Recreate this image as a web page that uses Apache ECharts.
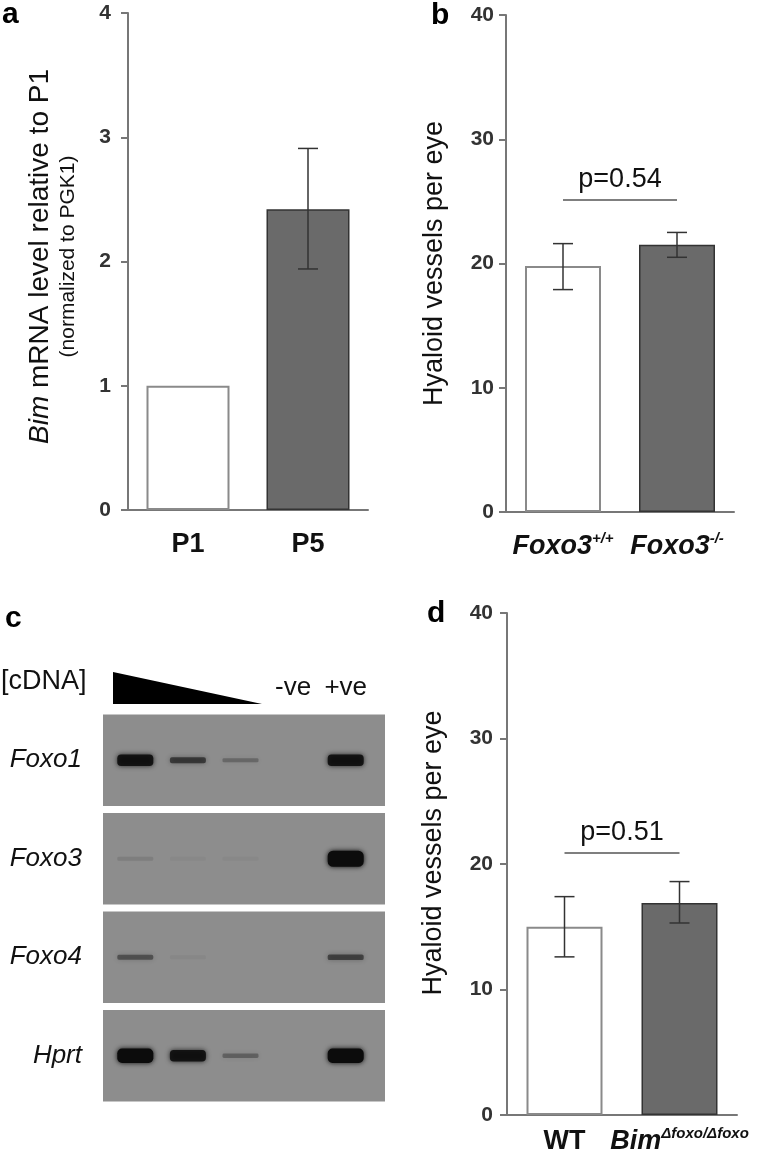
<!DOCTYPE html>
<html>
<head>
<meta charset="utf-8">
<script src="https://cdn.jsdelivr.net/npm/echarts@6/dist/echarts.min.js"></script>
<style>
  html, body { margin: 0; padding: 0; background: #fff; }
  #main { width: 768px; height: 1154px; }
</style>
</head>
<body>
<div id="main"></div>
<script>
// panel a
const aCats = ['P1', 'P5'];
const aMean = [1.0, 2.42];
const aLow = [null, 1.94];
const aHigh = [null, 2.91];
const aMax = 4, aStep = 1;

// panel b
const bCats = ['Foxo3+/+', 'Foxo3-/-'];
const bLabels = ['{b|Foxo3}{s|+/+}', '{b|Foxo3}{s|-/-}'];
const bMean = [19.8, 21.5];
const bLow = [17.9, 20.5];
const bHigh = [21.6, 22.5];
const bP = 'p=0.54', bPY = 25.1;

// panel d
const dCats = ['WT', 'Bim foxo/foxo'];
const dLabels = ['{n|WT}', '{b|Bim}{s|\u0394foxo/\u0394foxo}'];
const dMean = [15.0, 16.9];
const dLow = [12.6, 15.3];
const dHigh = [17.4, 18.6];
const dP = 'p=0.51', dPY = 20.9;
const bdMax = 40, bdStep = 10;

// panel c (gel band intensity, 0..1)
const genes = ['Foxo1', 'Foxo3', 'Foxo4', 'Hprt'];
const lanes = ['', '', '', '-ve', '+ve'];
const foxo1 = [0.85, 0.55, 0.25, 0, 0.85];
const foxo3 = [0.1, 0.03, 0.03, 0, 1.0];
const foxo4 = [0.4, 0.04, 0, 0, 0.5];
const hprt = [0.95, 0.85, 0.3, 0, 0.95];

const FONT = '"Liberation Sans", Arial, sans-serif';
const chart = echarts.init(document.getElementById('main'));

function barItems(vals) {
  return vals.map((v, i) => ({
    value: v,
    itemStyle: i === 0
      ? { color: '#ffffff', borderColor: '#8a8a8a', borderWidth: 2 }
      : { color: '#6a6a6a', borderColor: '#333333', borderWidth: 1.5 }
  }));
}

function errData(lows, highs) {
  const out = [];
  lows.forEach((lo, i) => { if (lo != null) out.push([i, lo, highs[i]]); });
  return out;
}

function renderErr(params, api) {
  const x = api.value(0);
  const lo = api.coord([x, api.value(1)]);
  const hi = api.coord([x, api.value(2)]);
  const w = 10;
  const st = { stroke: '#333', lineWidth: 1.5 };
  return {
    type: 'group',
    children: [
      { type: 'line', shape: { x1: lo[0], y1: lo[1], x2: hi[0], y2: hi[1] }, style: st },
      { type: 'line', shape: { x1: lo[0] - w, y1: lo[1], x2: lo[0] + w, y2: lo[1] }, style: st },
      { type: 'line', shape: { x1: hi[0] - w, y1: hi[1], x2: hi[0] + w, y2: hi[1] }, style: st }
    ]
  };
}

function pLine(text, y) {
  return {
    symbol: 'none',
    silent: true,
    lineStyle: { color: '#555', width: 1.5, type: 'solid' },
    label: { show: true, position: 'middle', formatter: text, fontSize: 27, color: '#111', fontFamily: FONT, distance: 7 },
    data: [[{ coord: [0, y] }, { coord: [1, y] }]]
  };
}

const axisLine = { show: true, lineStyle: { color: '#777', width: 2 } };
const tickLabel = { fontSize: 21, fontWeight: 'bold', color: '#333', fontFamily: FONT };
const supRich = {
  b: { fontSize: 27, fontWeight: 'bold', fontStyle: 'italic', color: '#111', fontFamily: FONT, lineHeight: 32 },
  n: { fontSize: 27, fontWeight: 'bold', color: '#111', fontFamily: FONT, lineHeight: 32 },
  s: { fontSize: 15, fontWeight: 'bold', fontStyle: 'italic', color: '#111', fontFamily: FONT, verticalAlign: 'top', lineHeight: 32 }
};

// gel
const bandData = [];
[foxo1, foxo3, foxo4, hprt].forEach((row, gi) => {
  row.forEach((v, li) => bandData.push([li, gi, v]));
});

const option = {
  animation: false,
  backgroundColor: '#fff',
  grid: [
    { left: 128, top: 13, width: 240, height: 497, outerBoundsMode: 'none', containLabel: false },
    { left: 506, top: 15, width: 228, height: 497, outerBoundsMode: 'none', containLabel: false },
    { left: 507, top: 613, width: 230, height: 502, outerBoundsMode: 'none', containLabel: false },
    { left: 109, top: 711, width: 263, height: 394, outerBoundsMode: 'none', containLabel: false }
  ],
  xAxis: [
    { gridIndex: 0, type: 'category', data: aCats, axisLine: axisLine, axisTick: { show: false },
      axisLabel: { interval: 0, hideOverlap: false, margin: 21, fontSize: 27, fontWeight: 'bold', color: '#111', fontFamily: FONT } },
    { gridIndex: 1, type: 'category', data: bCats, axisLine: axisLine, axisTick: { show: false },
      axisLabel: { interval: 0, hideOverlap: false, margin: 19, formatter: (v, i) => bLabels[i], rich: supRich } },
    { gridIndex: 2, type: 'category', data: dCats, axisLine: axisLine, axisTick: { show: false },
      axisLabel: { interval: 0, hideOverlap: false, margin: 11, formatter: (v, i) => dLabels[i], rich: supRich } },
    { gridIndex: 3, type: 'category', data: lanes, position: 'top', boundaryGap: true,
      axisLine: { show: false }, axisTick: { show: false },
      axisLabel: { margin: 10, interval: 0, fontSize: 26, color: '#111', fontFamily: FONT } }
  ],
  yAxis: [
    { gridIndex: 0, type: 'value', min: 0, max: aMax, interval: aStep, splitLine: { show: false },
      axisLine: axisLine, axisTick: { show: true, length: 7, lineStyle: { color: '#777', width: 2 } },
      axisLabel: Object.assign({ margin: 17 }, tickLabel),
      name: '{i|Bim} mRNA level relative to P1\n{s|(normalized to PGK1)}',
      nameLocation: 'middle', nameRotate: 90, nameGap: 47,
      nameTextStyle: { fontSize: 28, color: '#111', fontFamily: FONT, lineHeight: 30, padding: [0, 0, 0, 10],
        rich: {
          i: { fontSize: 28, fontStyle: 'italic', color: '#111', fontFamily: FONT, lineHeight: 30 },
          s: { fontSize: 21, color: '#111', fontFamily: FONT, lineHeight: 26 }
        } } },
    { gridIndex: 1, type: 'value', min: 0, max: bdMax, interval: bdStep, splitLine: { show: false },
      axisLine: axisLine, axisTick: { show: true, length: 7, lineStyle: { color: '#777', width: 2 } },
      axisLabel: Object.assign({ margin: 12 }, tickLabel),
      name: 'Hyaloid vessels per eye', nameLocation: 'middle', nameRotate: 90, nameGap: 57,
      nameTextStyle: { fontSize: 27, color: '#111', fontFamily: FONT, lineHeight: 28 } },
    { gridIndex: 2, type: 'value', min: 0, max: bdMax, interval: bdStep, splitLine: { show: false },
      axisLine: axisLine, axisTick: { show: true, length: 7, lineStyle: { color: '#777', width: 2 } },
      axisLabel: Object.assign({ margin: 14 }, tickLabel),
      name: 'Hyaloid vessels per eye', nameLocation: 'middle', nameRotate: 90, nameGap: 59,
      nameTextStyle: { fontSize: 27, color: '#111', fontFamily: FONT, lineHeight: 28, padding: [0, 0, 0, 22] } },
    { gridIndex: 3, type: 'category', data: genes, inverse: true,
      axisLine: { show: false }, axisTick: { show: false }, splitLine: { show: false },
      axisLabel: { margin: 27, fontSize: 26, fontStyle: 'italic', color: '#111', fontFamily: FONT } }
  ],
  series: [
    { type: 'bar', xAxisIndex: 0, yAxisIndex: 0, barWidth: 83, data: barItems(aMean), silent: true },
    { type: 'custom', xAxisIndex: 0, yAxisIndex: 0, renderItem: renderErr, data: errData(aLow, aHigh),
      encode: { x: 0, y: [1, 2] }, z: 3, silent: true },

    { type: 'bar', xAxisIndex: 1, yAxisIndex: 1, barWidth: 76, data: barItems(bMean), silent: true,
      markLine: pLine(bP, bPY) },
    { type: 'custom', xAxisIndex: 1, yAxisIndex: 1, renderItem: renderErr, data: errData(bLow, bHigh),
      encode: { x: 0, y: [1, 2] }, z: 3, silent: true },

    { type: 'bar', xAxisIndex: 2, yAxisIndex: 2, barWidth: 76, data: barItems(dMean), silent: true,
      markLine: pLine(dP, dPY) },
    { type: 'custom', xAxisIndex: 2, yAxisIndex: 2, renderItem: renderErr, data: errData(dLow, dHigh),
      encode: { x: 0, y: [1, 2] }, z: 3, silent: true },

    // gel strips, one per gene
    { type: 'custom', xAxisIndex: 3, yAxisIndex: 3, silent: true, z: 1,
      data: genes.map((g, i) => [0, i]), encode: { x: 0, y: 1 },
      renderItem: function (params, api) {
        const c = api.coord([0, api.value(1)]);
        const h = api.size([0, 1])[1];
        const cs = params.coordSys;
        return { type: 'rect', shape: { x: cs.x - 6, y: c[1] - h / 2 + 3.5, width: cs.width + 19, height: h - 7 },
          style: { fill: '#8d8d8d' } };
      } },
    // gel bands
    { type: 'custom', xAxisIndex: 3, yAxisIndex: 3, silent: true, z: 2,
      data: bandData, encode: { x: 0, y: 1 },
      renderItem: function (params, api) {
        const v = api.value(2);
        if (!v) return null;
        const c = api.coord([api.value(0), api.value(1)]);
        const bh = 4 + 12 * v * v * v;
        const col = 'rgba(12,12,12,' + Math.min(1, v * 1.05) + ')';
        return { type: 'rect', shape: { x: c[0] - 18, y: c[1] - bh / 2, width: 36, height: bh, r: bh / 3 },
          style: { fill: col, shadowBlur: 5, shadowColor: col } };
      } }
  ],
  graphic: [
    { type: 'text', x: 2, y: 15, style: { text: 'a', font: 'bold 30px ' + FONT, fill: '#000', verticalAlign: 'middle' } },
    { type: 'text', x: 431, y: 16, style: { text: 'b', font: 'bold 30px ' + FONT, fill: '#000', verticalAlign: 'middle' } },
    { type: 'text', x: 5, y: 619, style: { text: 'c', font: 'bold 30px ' + FONT, fill: '#000', verticalAlign: 'middle' } },
    { type: 'text', x: 427, y: 614, style: { text: 'd', font: 'bold 30px ' + FONT, fill: '#000', verticalAlign: 'middle' } },
    { type: 'text', x: 1, y: 682, style: { text: '[cDNA]', font: '27px ' + FONT, fill: '#111', verticalAlign: 'middle' } },
    { type: 'polygon', shape: { points: [[113, 672], [113, 704], [262, 704]] }, style: { fill: '#000' } }
  ]
};

chart.setOption(option);
</script>
</body>
</html>
